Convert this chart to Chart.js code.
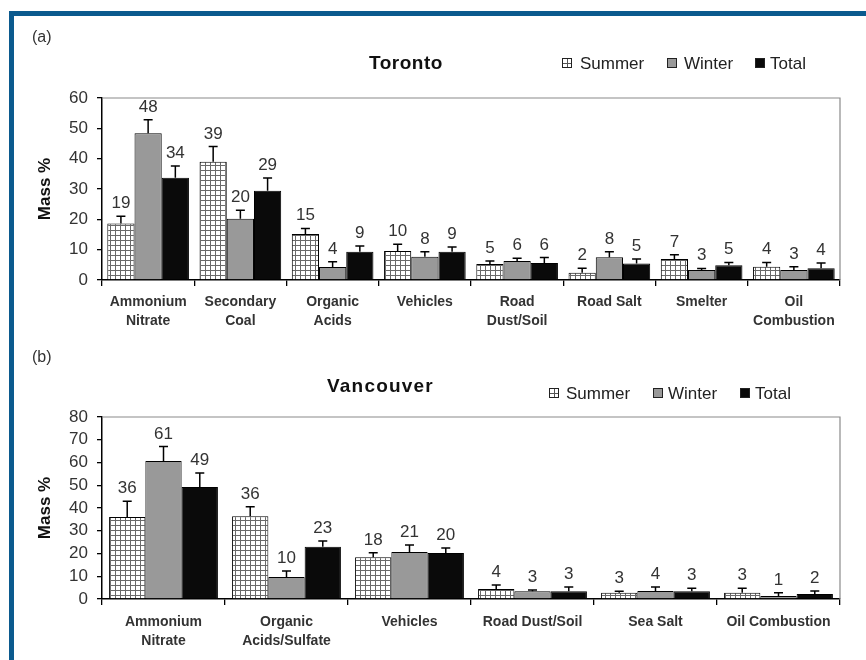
<!DOCTYPE html>
<html>
<head>
<meta charset="utf-8">
<script src="https://cdn.jsdelivr.net/npm/chart.js@4.4.0/dist/chart.umd.min.js"></script>
<style>
  body { margin: 0; background: #fff; }
  #page { position: relative; width: 866px; height: 660px; overflow: hidden; font-family: "Liberation Sans", Arial, sans-serif; color: #222; }
  .blue-top { position: absolute; left: 9px; right: 0; top: 11px; height: 5px; background: #0b5a8e; }
  .blue-left { position: absolute; left: 9px; top: 11px; width: 5px; bottom: 0; background: #0b5a8e; }
  canvas { position: absolute; left: 0; }
  .txt { position: absolute; white-space: nowrap; line-height: 1; }
  .panel { font-size: 16px; color: #333; }
  .title { font-size: 19px; font-weight: bold; color: #111; }
  .leg { font-size: 17px; color: #222; }
  .sw { position: absolute; width: 10px; height: 10px; border: 1px solid #222; box-sizing: border-box; }
  .sw.summer { background: linear-gradient(#555,#555) center/1px 100% no-repeat, linear-gradient(#555,#555) center/100% 1px no-repeat, #fff; }
  .sw.winter { background: #999; }
  .sw.total { background: #0a0a0a; }
</style>
</head>
<body>
<div id="page">
  <div class="blue-top"></div>
  <div class="blue-left"></div>
  <canvas id="toronto" width="866" height="330" style="top:0"></canvas>
  <canvas id="vancouver" width="866" height="330" style="top:330px"></canvas>

  <div class="txt panel" style="left:32px; top:29px">(a)</div>
  <div class="txt title" style="left:369px; top:53px; letter-spacing:0.5px">Toronto</div>
  <div class="sw summer" style="left:562px; top:58px"></div>
  <div class="txt leg" style="left:580px; top:55px">Summer</div>
  <div class="sw winter" style="left:667px; top:58px"></div>
  <div class="txt leg" style="left:684px; top:55px">Winter</div>
  <div class="sw total" style="left:755px; top:58px"></div>
  <div class="txt leg" style="left:770px; top:55px">Total</div>

  <div class="txt panel" style="left:32px; top:349px">(b)</div>
  <div class="txt title" style="left:327px; top:376px; letter-spacing:1.2px">Vancouver</div>
  <div class="sw summer" style="left:549px; top:388px"></div>
  <div class="txt leg" style="left:566px; top:385px">Summer</div>
  <div class="sw winter" style="left:653px; top:388px"></div>
  <div class="txt leg" style="left:668px; top:385px">Winter</div>
  <div class="sw total" style="left:740px; top:388px"></div>
  <div class="txt leg" style="left:755px; top:385px">Total</div>
</div>
<script>
// Toronto (a)
const torontoCategories = [['Ammonium', 'Nitrate'], ['Secondary', 'Coal'], ['Organic', 'Acids'], 'Vehicles',
  ['Road', 'Dust/Soil'], 'Road Salt', 'Smelter', ['Oil', 'Combustion']];
const torontoSummer = [18.6, 39, 15.2, 9.6, 5.3, 2.4, 6.9, 4.4];
const torontoWinter = [48.4, 20.2, 4.3, 7.7, 6.3, 7.5, 3.3, 3.3];
const torontoTotal = [33.7, 29.4, 9.3, 9.3, 5.6, 5.4, 4.9, 3.9];
const torontoSummerErr = [2.4, 5, 1.8, 2.2, 1, 1.5, 1.4, 1.4];
const torontoWinterErr = [4.4, 2.8, 1.7, 1.6, 0.9, 1.8, 0.5, 1.1];
const torontoTotalErr = [3.9, 4.2, 1.9, 1.6, 1.8, 1.5, 0.9, 1.7];
const torontoTicks = [0, 10, 20, 30, 40, 50, 60];

// Vancouver (b)
const vancouverCategories = [['Ammonium', 'Nitrate'], ['Organic', 'Acids/Sulfate'], 'Vehicles',
  'Road Dust/Soil', 'Sea Salt', 'Oil Combustion'];
const vancouverSummer = [36, 36.4, 18.4, 4.4, 2.7, 2.7];
const vancouverWinter = [60.7, 9.7, 20.7, 3.4, 3.5, 1.3];
const vancouverTotal = [49.2, 23, 20.2, 3.4, 3.4, 2.2];
const vancouverSummerErr = [7, 4.1, 1.9, 1.8, 0.7, 2];
const vancouverWinterErr = [6.3, 2.6, 3, 0.6, 1.8, 1.4];
const vancouverTotalErr = [6.2, 2.5, 2.2, 1.9, 1.3, 1.3];
const vancouverTicks = [0, 10, 20, 30, 40, 50, 60, 70, 80];

const FONT = '"Liberation Sans", Arial, sans-serif';

// grid fill used for the summer bars
const makeGridPattern = () => {
    const c = document.createElement('canvas');
    c.width = 5;
    c.height = 5;
    const g = c.getContext('2d');
    g.fillStyle = '#fff';
    g.fillRect(0, 0, 5, 5);
    g.fillStyle = '#6a6a6a';
    g.fillRect(0, 0, 5, 1);
    g.fillRect(0, 0, 1, 5);
    return g.createPattern(c, 'repeat');
};

// error bars (upper half only) + value labels above them
const errorBarPlugin = {
    id: 'errorBars',
    afterDatasetsDraw(chart, args, opts) {
        const ctx = chart.ctx;
        const yScale = chart.scales.y;
        ctx.save();
        chart.data.datasets.forEach((ds, i) => {
            const meta = chart.getDatasetMeta(i);
            meta.data.forEach((bar, j) => {
                const v = ds.data[j];
                const top = yScale.getPixelForValue(v + opts.errors[i][j]);
                ctx.strokeStyle = '#000';
                ctx.lineWidth = 1.5;
                ctx.beginPath();
                ctx.moveTo(bar.x, bar.y);
                ctx.lineTo(bar.x, top);
                ctx.moveTo(bar.x - 4.5, top);
                ctx.lineTo(bar.x + 4.5, top);
                ctx.stroke();
                ctx.fillStyle = '#333';
                ctx.font = '17px ' + FONT;
                ctx.textAlign = 'center';
                ctx.textBaseline = 'alphabetic';
                ctx.fillText(String(Math.round(v)), bar.x, top - 8);
            });
        });
        ctx.restore();
    },
    afterDraw(chart) {
        // grey frame on top and right of the plot
        const { left, right, top, bottom } = chart.chartArea;
        const ctx = chart.ctx;
        ctx.save();
        ctx.strokeStyle = '#8a8a8a';
        ctx.lineWidth = 1.2;
        ctx.beginPath();
        ctx.moveTo(left, top);
        ctx.lineTo(right, top);
        ctx.lineTo(right, bottom);
        ctx.stroke();
        ctx.restore();
    }
};

const buildChart = (id, categories, summer, winter, total, errs, ticks, padTop, xHeight, labelPad) => {
    const pattern = makeGridPattern();
    return new Chart(document.getElementById(id), {
        type: 'bar',
        data: {
            labels: categories,
            datasets: [
                { label: 'Summer', data: summer, backgroundColor: pattern },
                { label: 'Winter', data: winter, backgroundColor: '#999999' },
                { label: 'Total', data: total, backgroundColor: '#0a0a0a' }
            ]
        },
        options: {
            responsive: false,
            animation: false,
            devicePixelRatio: 1,
            layout: { padding: { top: padTop, right: 26, left: 0, bottom: 0 } },
            datasets: {
                bar: { borderColor: '#000', borderWidth: 1, categoryPercentage: 0.885, barPercentage: 1.0 }
            },
            plugins: {
                legend: { display: false },
                tooltip: { enabled: false },
                errorBars: { errors: errs }
            },
            scales: {
                x: {
                    grid: { offset: true, drawOnChartArea: false, drawTicks: true, tickLength: 6, color: '#000', lineWidth: 1.3 },
                    border: { color: '#000', width: 1.5 },
                    ticks: { color: '#333', padding: labelPad, maxRotation: 0, autoSkip: false,
                        font: { family: FONT, size: 14, weight: 'bold', lineHeight: 1.33 } },
                    afterFit: (s) => { s.height = xHeight; }
                },
                y: {
                    min: ticks[0],
                    max: ticks[ticks.length - 1],
                    afterBuildTicks: (s) => { s.ticks = ticks.map(v => ({ value: v })); },
                    grid: { drawOnChartArea: false, drawTicks: true, tickLength: 5, color: '#000', lineWidth: 1.3 },
                    border: { color: '#000', width: 1.5 },
                    ticks: { color: '#333', padding: 9, autoSkip: false, font: { family: FONT, size: 17 } },
                    title: { display: true, text: 'Mass %', color: '#111',
                        font: { family: FONT, size: 17, weight: 'bold' }, padding: { top: 35, bottom: 0 } },
                    afterFit: (s) => { s.width = 102; }
                }
            }
        },
        plugins: [errorBarPlugin]
    });
};

buildChart('toronto', torontoCategories, torontoSummer, torontoWinter, torontoTotal,
    [torontoSummerErr, torontoWinterErr, torontoTotalErr], torontoTicks, 98, 50, 7);
buildChart('vancouver', vancouverCategories, vancouverSummer, vancouverWinter, vancouverTotal,
    [vancouverSummerErr, vancouverWinterErr, vancouverTotalErr], vancouverTicks, 87, 61, 8);
</script>
</body>
</html>
